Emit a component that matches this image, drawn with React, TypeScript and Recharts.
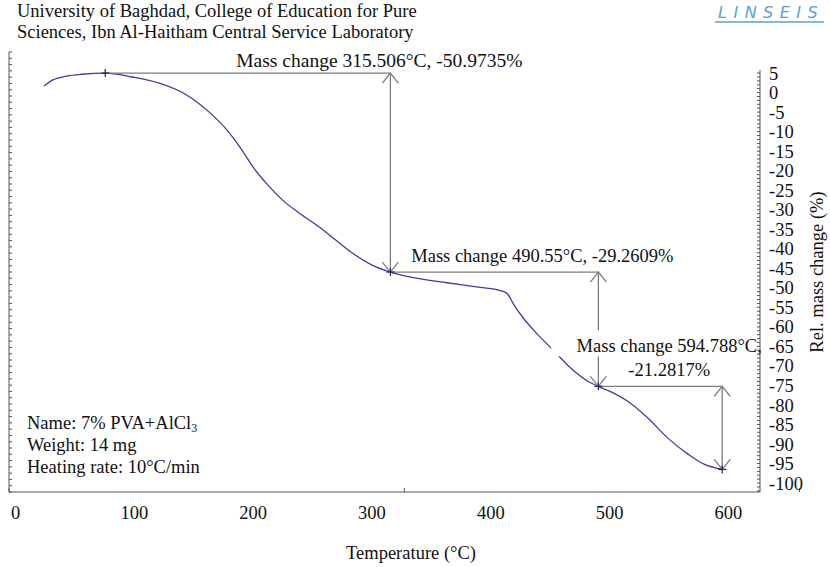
import React from 'react';
import { LineChart, Line, XAxis, YAxis, ReferenceLine, ReferenceDot } from 'recharts';

// TG curve: temperature (°C) and relative mass change (%)
const temps = [24, 31, 43, 56, 75.5, 98, 121, 144, 163, 178, 189, 200, 211, 225, 239, 256, 270, 284, 301, 315.506,
  335, 363, 391, 408, 414, 419, 427, 439, 453, 467, 481, 490.55, 503, 515, 532, 549, 566, 579, 594.788];
const massPct = [1.7, 3.2, 4.2, 4.7, 5.0, 4.0, 2.4, -0.6, -5.0, -9.6, -14.0, -19.1, -23.2, -27.6, -30.9, -34.5, -37.9, -41.2, -44.3, -45.97,
  -47.4, -48.7, -49.9, -50.7, -51.5, -54.1, -57.6, -61.8, -66.1, -70.5, -73.8, -75.23, -76.9, -79.0, -83.3, -88.5, -92.6, -95.1, -96.51];

const tempTicks = [0, 100, 200, 300, 400, 500, 600];
const massTicks = [5, 0, -5, -10, -15, -20, -25, -30, -35, -40, -45, -50, -55, -60, -65, -70, -75, -80, -85, -90, -95, -100];

// mass-change evaluation points
const stepTemps = [75.5, 315.506, 490.55, 594.788];
const stepMass = [5.0, -45.97, -75.23, -96.51];
const stepLabels = [
  ['Mass change 315.506°C, -50.9735%'],
  ['Mass change 490.55°C, -29.2609%'],
  ['Mass change 594.788°C,', '-21.2817%'],
];

const X_DOMAIN = [-5.5, 626.6];
const Y_DOMAIN = [-102.3, 10.4];
const SERIF = "'Liberation Serif', 'Times New Roman', serif";
const FS = 18.5;
const CURVE = '#3d3d9e';
const GUIDE = '#7d7d7d';
const AXIS = '#555';

const data = temps.map((t, i) => ({ t, m: massPct[i] }));

const minorT: number[] = [];
for (let t = 0; t <= 620; t += 20) minorT.push(t);
const minorM: number[] = [];
for (let m = 5; m >= -102; m--) minorM.push(m);
const minorL: number[] = [];
for (let k = 0; k <= 70; k++) minorL.push(k);

// label placement relative to the end of its horizontal guide: [dx of text centre, dy of first baseline, font size]
const labelPlace = [[-11, -6, 19.5], [-56, -10, FS], [-53, -34, FS]];

const blank = () => '';

function hGuide(i: number) {
  return (p: any) => {
    const { x1, y1, x2 } = p;
    const [dx, dy, fs] = labelPlace[i];
    const cx = x2 + dx;
    const lines = stepLabels[i];
    return (
      <g>
        <line x1={x1} y1={y1} x2={x2} y2={y1} stroke={GUIDE} strokeWidth={1.3} />
        {lines.length > 1 && (
          <rect x={cx - 118} y={y1 + dy - 22} width={205} height={26} fill="#fff" />
        )}
        {lines.map((s, k) => (
          <text key={k} x={cx} y={y1 + dy + k * 24} textAnchor="middle"
            fontFamily={SERIF} fontSize={fs} fill="#111">{s}</text>
        ))}
      </g>
    );
  };
}

function vArrow(p: any) {
  const { x1, y1, y2 } = p;
  const top = Math.min(y1, y2);
  const bot = Math.max(y1, y2);
  return (
    <g fill="none" stroke={GUIDE} strokeWidth={1.3}>
      <line x1={x1} y1={top} x2={x1} y2={bot} />
      <polyline points={`${x1 - 8},${top + 10} ${x1},${top} ${x1 + 8},${top + 10}`} />
      <polyline points={`${x1 - 8},${bot - 10} ${x1},${bot} ${x1 + 8},${bot - 10}`} />
    </g>
  );
}

function cross(p: any) {
  const { cx, cy } = p;
  return (
    <g stroke="#222266" strokeWidth={1.2}>
      <line x1={cx - 4} y1={cy} x2={cx + 4} y2={cy} />
      <line x1={cx} y1={cy - 4} x2={cx} y2={cy + 4} />
    </g>
  );
}

export default function App() {
  return (
    <div style={{ position: 'absolute', left: 0, top: 0, width: 830, height: 567, background: '#fff', fontFamily: SERIF, color: '#111' }}>
      <div style={{ position: 'absolute', left: 17, top: 1, fontSize: FS, lineHeight: '21px', whiteSpace: 'nowrap' }}>
        University of Baghdad, College of Education for Pure<br />
        Sciences, Ibn Al-Haitham Central Service Laboratory
      </div>
      <svg style={{ position: 'absolute', left: 712, top: 0 }} width={118} height={26}>
        <text x={6} y={18} fontFamily="'DejaVu Sans', sans-serif" fontStyle="italic" fontSize={16}
          letterSpacing={6.5} fill="#5aa0dc">LINSEIS</text>
        <line x1={3} y1={22} x2={112} y2={22} stroke="#5aa0dc" strokeWidth={1.6} />
      </svg>

      <LineChart width={830} height={567} data={data} margin={{ top: 52, right: 69, bottom: 74, left: 9 }}>
        <XAxis xAxisId="minor" type="number" domain={X_DOMAIN} ticks={minorT} interval={0} height={1}
          allowDataOverflow mirror tickSize={4} tickFormatter={blank} stroke={AXIS} />
        <XAxis dataKey="t" type="number" domain={X_DOMAIN} ticks={tempTicks} interval={0} height={1}
          allowDataOverflow tickLine={false} axisLine={false} tickSize={0} tickMargin={14}
          tick={{ fill: '#111', fontSize: FS, fontFamily: SERIF }} />
        <YAxis yAxisId="mm" orientation="right" type="number" domain={Y_DOMAIN} ticks={minorM} interval={0}
          width={1} allowDataOverflow mirror axisLine={false} tickSize={3} tickFormatter={blank} stroke={AXIS} />
        <YAxis yAxisId="m" orientation="right" type="number" domain={Y_DOMAIN} ticks={massTicks} interval={0}
          width={1} allowDataOverflow tickLine={false} axisLine={false} tickSize={0} tickMargin={9}
          tick={{ fill: '#111', fontSize: FS, fontFamily: SERIF }} />
        <YAxis yAxisId="l" orientation="left" type="number" domain={[0, 70]} ticks={minorL} interval={0}
          width={1} allowDataOverflow mirror tickSize={3} tickFormatter={blank} stroke={AXIS} />

        <ReferenceLine yAxisId="m" ifOverflow="visible" stroke={AXIS}
          segment={[{ x: X_DOMAIN[1], y: 5.8 }, { x: X_DOMAIN[1], y: Y_DOMAIN[0] }]} />

        <Line yAxisId="m" dataKey="m" type="monotone" stroke={CURVE} strokeWidth={1.3} dot={false}
          isAnimationActive={false} />

        {[0, 1, 2].map((i) => (
          <ReferenceLine key={`v${i}`} yAxisId="m" ifOverflow="visible" shape={vArrow}
            segment={[{ x: stepTemps[i + 1], y: stepMass[i] }, { x: stepTemps[i + 1], y: stepMass[i + 1] }]} />
        ))}
        {[0, 1, 2].map((i) => (
          <ReferenceLine key={`h${i}`} yAxisId="m" ifOverflow="visible" shape={hGuide(i)}
            segment={[{ x: stepTemps[i], y: stepMass[i] }, { x: stepTemps[i + 1], y: stepMass[i] }]} />
        ))}
        {stepTemps.map((t, i) => (
          <ReferenceDot key={`c${i}`} yAxisId="m" x={t} y={stepMass[i]} ifOverflow="visible" shape={cross} />
        ))}
      </LineChart>

      <div style={{ position: 'absolute', left: 27, top: 412, fontSize: FS, lineHeight: '22px', whiteSpace: 'nowrap' }}>
        Name: 7% PVA+AlCl<sub style={{ fontSize: 12, lineHeight: 0, verticalAlign: '-3px' }}>3</sub><br />
        Weight: 14 mg<br />
        Heating rate: 10°C/min
      </div>
      <div style={{ position: 'absolute', left: 0, width: 822, top: 541, textAlign: 'center', fontSize: FS, lineHeight: '24px' }}>
        Temperature (°C)
      </div>
      <div style={{ position: 'absolute', left: 817, top: 272, fontSize: FS, lineHeight: '20px', whiteSpace: 'nowrap',
        transform: 'translate(-50%, -50%) rotate(-90deg)' }}>
        Rel. mass change (%)
      </div>
    </div>
  );
}
